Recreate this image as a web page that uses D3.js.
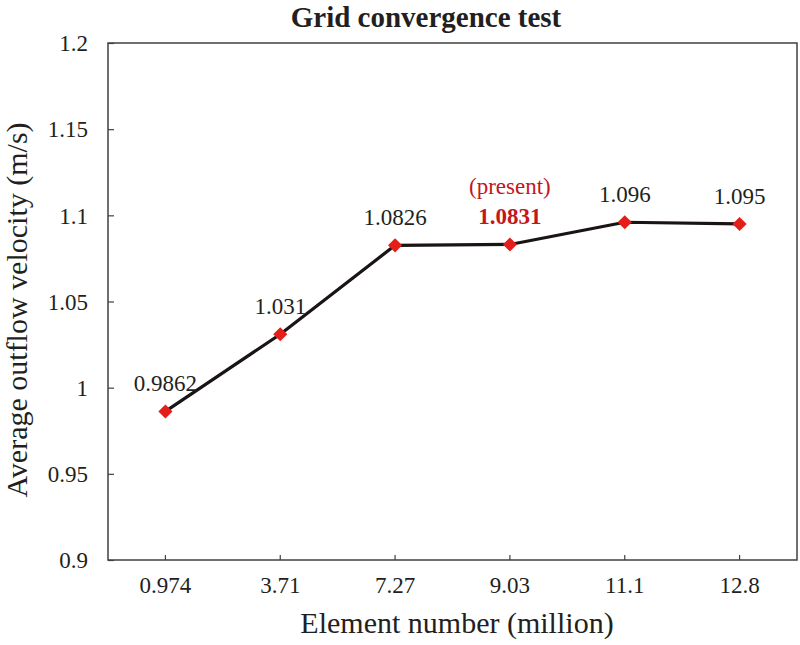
<!DOCTYPE html>
<html>
<head>
<meta charset="utf-8">
<script src="https://cdn.jsdelivr.net/npm/d3@7"></script>
<style>
  html, body { margin: 0; padding: 0; background: #fff; }
  svg { display: block; }
  text { font-family: "Liberation Serif", "Times New Roman", serif; fill: #231f20; }
</style>
</head>
<body>
<svg id="chart" width="800" height="645"></svg>
<script>
const categories = ["0.974", "3.71", "7.27", "9.03", "11.1", "12.8"];
const values = [0.9862, 1.031, 1.0826, 1.0831, 1.096, 1.095];
const valueLabels = ["0.9862", "1.031", "1.0826", "1.0831", "1.096", "1.095"];
const highlightIndex = 3;
const highlightNote = "(present)";
const yTicks = [0.9, 0.95, 1, 1.05, 1.1, 1.15, 1.2];
const yTickLabels = ["0.9", "0.95", "1", "1.05", "1.1", "1.15", "1.2"];
const title = "Grid convergence test";
const xTitle = "Element number (million)";
const yTitle = "Average outflow velocity (m/s)";

const svg = d3.select("#chart");
const m = { left: 108, right: 797, top: 43, bottom: 560 };

const x = d3.scaleBand().domain(categories).range([m.left, m.right]);
const y = d3.scaleLinear().domain([0.9, 1.2]).range([m.bottom, m.top]);
const cx = c => x(c) + x.bandwidth() / 2;

const axisColor = "#404040";

// frame
svg.append("rect")
  .attr("x", m.left).attr("y", m.top)
  .attr("width", m.right - m.left).attr("height", m.bottom - m.top)
  .attr("fill", "none").attr("stroke", axisColor).attr("stroke-width", 1.5);

// y axis (ticks inward)
const yAxis = d3.axisLeft(y).tickValues(yTicks)
  .tickFormat((d, i) => yTickLabels[i]).tickSizeInner(-6).tickSizeOuter(0).tickPadding(20);
const gy = svg.append("g").attr("transform", `translate(${m.left},0)`).call(yAxis);
gy.attr("font-family", null).attr("font-size", null);
gy.select(".domain").remove();
gy.selectAll(".tick line").attr("stroke", axisColor).attr("stroke-width", 1.2);
gy.selectAll(".tick text").style("font-size", "23px").style("font-family", "'Liberation Serif', serif").attr("fill", "#231f20").attr("dy", "0.34em");

// x axis (ticks inward)
const xAxis = d3.axisBottom(x).tickSizeInner(-5).tickSizeOuter(0).tickPadding(25);
const gx = svg.append("g").attr("transform", `translate(0,${m.bottom})`).call(xAxis);
gx.attr("font-family", null).attr("font-size", null);
gx.select(".domain").remove();
gx.selectAll(".tick line").attr("stroke", axisColor).attr("stroke-width", 1.2);
gx.selectAll(".tick text").style("font-size", "23px").style("font-family", "'Liberation Serif', serif").attr("fill", "#231f20").attr("dy", "0.35em");

// line
const data = categories.map((c, i) => ({ c, v: values[i], label: valueLabels[i], i }));
svg.append("path").datum(data)
  .attr("fill", "none").attr("stroke", "#1a1414").attr("stroke-width", 3.2)
  .attr("stroke-linejoin", "round")
  .attr("d", d3.line().x(d => cx(d.c)).y(d => y(d.v)));

// markers
svg.selectAll(".mk").data(data).enter().append("path")
  .attr("transform", d => `translate(${cx(d.c)},${y(d.v)}) rotate(45)`)
  .attr("d", "M-5,-5H5V5H-5Z")
  .attr("fill", "#e41f1a");

// value labels
svg.selectAll(".vl").data(data).enter().append("text")
  .attr("x", d => cx(d.c)).attr("y", d => y(d.v) - 20)
  .attr("text-anchor", "middle")
  .style("font-size", "23px")
  .style("font-weight", d => d.i === highlightIndex ? "bold" : "normal")
  .style("fill", d => d.i === highlightIndex ? "#c4161c" : "#231f20")
  .text(d => d.label);

svg.append("text")
  .attr("x", cx(categories[highlightIndex]))
  .attr("y", y(values[highlightIndex]) - 50)
  .attr("text-anchor", "middle")
  .style("font-size", "23px").style("fill", "#c4161c")
  .text(highlightNote);

// title
svg.append("text").attr("x", 426).attr("y", 27).attr("text-anchor", "middle")
  .style("font-size", "29px").style("font-weight", "bold").text(title);

// axis titles
svg.append("text").attr("x", 457).attr("y", 633).attr("text-anchor", "middle")
  .style("font-size", "30px").text(xTitle);
svg.append("text").attr("transform", "translate(27,310) rotate(-90)")
  .attr("text-anchor", "middle").style("font-size", "30px").text(yTitle);
</script>
</body>
</html>
